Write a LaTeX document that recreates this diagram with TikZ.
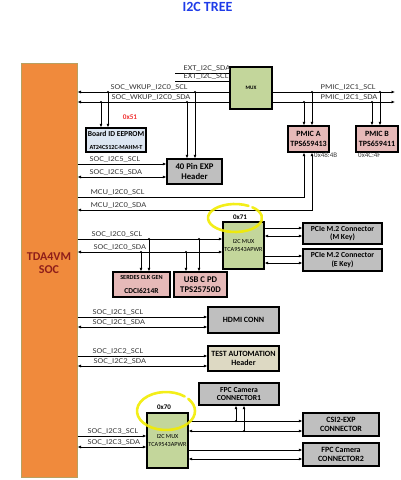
\documentclass[tikz,border=0pt]{standalone}
\usepackage{fontspec}
\setmainfont{Carlito}
\usetikzlibrary{arrows.meta}
\definecolor{socor}{HTML}{F08A3C}
\definecolor{socbd}{HTML}{B8A060}
\definecolor{mgreen}{HTML}{C3D69B}
\definecolor{mpink}{HTML}{E6B9B8}
\definecolor{mgray}{HTML}{BFBFBF}
\definecolor{mbeige}{HTML}{DDD9C3}
\definecolor{mblue}{HTML}{DCE6F2}
\definecolor{lbl}{HTML}{3A3A3A}
\definecolor{ttl}{HTML}{1F3CE8}
\definecolor{hl}{HTML}{F2EC00}
\definecolor{soctxt}{HTML}{8E1E1A}
\definecolor{addr}{HTML}{F03030}
\newcommand{\fs}[1]{\fontsize{#1}{#1}\selectfont}
\newcommand{\wl}[1]{\scalebox{1.15}[1]{#1}}
\begin{document}
\begin{tikzpicture}[x=1pt,y=-1pt,
  box/.style={draw=black, line width=1.3pt, inner sep=0pt, align=center, font=\bfseries},
  wire/.style={line width=0.7pt},
  arr/.style={wire,-{Latex[length=3.5pt,width=3pt]}},
  arrB/.style={wire,{Latex[length=3.5pt,width=3pt]}-{Latex[length=3.5pt,width=3pt]}},
  lab/.style={font=\fs{7.5}, text=lbl, anchor=south west, inner sep=0.4pt},
  dot/.style={fill=black},
  hlite/.style={draw=hl, line width=2.6pt, line cap=round, opacity=0.9}]
\useasboundingbox (0,0) rectangle (400,480);
% title
\node[font=\fs{14}\bfseries, text=ttl] (title) at (207.5,7) {I2C TREE};
% boxes
\node[draw=socbd, line width=1pt, fill=socor, minimum width=56pt, minimum height=414pt, inner sep=0pt] (soc) at (49,270) {};
\node[font=\fs{12}\bfseries, text=soctxt, align=center, inner sep=0pt] (soctxt) at (49,263) {TDA4VM\\[1pt]SOC};
\node[box, fill=mgreen, minimum width=42pt, minimum height=42pt, font=\fs{5.2}\bfseries] (mux) at (251,88) {MUX};
\node[box, fill=mblue, minimum width=60pt, minimum height=24pt] (eeprom) at (116,140) {\fs{7.6}Board ID EEPROM\\[1pt]\fs{6.2}AT24CS12C-MAHM-T};
\node[box, fill=mpink, minimum width=41pt, minimum height=26pt, font=\fs{8}\bfseries] (pmica) at (308.5,139) {PMIC A\\[1.5pt]TPS659413};
\node[box, fill=mpink, minimum width=42pt, minimum height=26pt, font=\fs{8}\bfseries] (pmicb) at (377,139) {PMIC B\\[1.5pt]TPS659411};
\node[box, fill=mgray, minimum width=55pt, minimum height=25pt, font=\fs{8.7}\bfseries] (hdr) at (194.5,171.5) {40 Pin EXP\\[2pt]Header};
\node[box, fill=mgreen, minimum width=41pt, minimum height=47pt, font=\fs{6.2}] (muxa) at (243.5,245.5) {I2C MUX\\[1pt]TCA9543APWR};
\node[box, fill=mpink, minimum width=57pt, minimum height=25pt] (serdes) at (141.5,284.5) {\fs{6.2}SERDES CLK GEN\\[2pt]\fs{7.5}CDCI6214R};
\node[box, fill=mpink, minimum width=53pt, minimum height=25pt, font=\fs{8.7}\bfseries] (usbc) at (200.5,284.5) {USB C PD\\[1.5pt]TPS25750D};
\node[box, fill=mgray, minimum width=79pt, minimum height=21pt, font=\fs{7.7}\bfseries] (pciem) at (342.5,233.5) {PCIe M.2 Connector\\[1pt](M Key)};
\node[box, fill=mgray, minimum width=79pt, minimum height=22pt, font=\fs{7.7}\bfseries] (pciee) at (342.5,260) {PCIe M.2 Connector\\[1pt](E Key)};
\node[box, fill=mgray, minimum width=71pt, minimum height=26pt, font=\fs{8}\bfseries] (hdmi) at (243.5,320) {HDMI CONN};
\node[box, fill=mbeige, minimum width=71pt, minimum height=25pt, font=\fs{8}\bfseries] (test) at (243.5,358.5) {TEST AUTOMATION\\[1.5pt]Header};
\node[box, fill=mgray, minimum width=80pt, minimum height=22pt, font=\fs{7.7}\bfseries] (fpca) at (239,394) {FPC Camera\\[1pt]CONNECTOR1};
\node[box, fill=mgreen, minimum width=41pt, minimum height=55pt, font=\fs{6.2}] (muxb) at (167.5,440.5) {I2C MUX\\[1pt]TCA9543APWR};
\node[box, fill=mgray, minimum width=76pt, minimum height=23pt, font=\fs{8}\bfseries] (csi) at (341,424.5) {CSI2-EXP\\[1pt]CONNECTOR};
\node[box, fill=mgray, minimum width=76pt, minimum height=23pt, font=\fs{8}\bfseries] (fpcb) at (341,454.5) {FPC Camera\\[1pt]CONNECTOR2};
% address labels
\node[font=\fs{7.2}\bfseries, text=addr] (a51) at (130,117) {0x51};
\node[font=\fs{7}, text=lbl, anchor=west, inner sep=0pt] (a48) at (314,155) {0x48:4B};
\node[font=\fs{7}, text=lbl, anchor=west, inner sep=0pt] (a4c) at (358,155) {0x4C:4F};
\node[font=\fs{7}\bfseries] (a71) at (240,217) {0x71};
\node[font=\fs{7}\bfseries] (a70) at (164,407) {0x70};
% levels
\coordinate (ex0) at (175,73); \coordinate (ex1) at (175,81);
\coordinate (w1) at (0,92); \coordinate (w2) at (0,102);
\coordinate (xR) at (395,0);
\coordinate (i5a) at (0,164); \coordinate (i5b) at (0,177);
\coordinate (m1) at (304,197); \coordinate (m2) at (312,210);
\coordinate (i0a) at (0,239); \coordinate (i0b) at (0,252);
\coordinate (pma) at (0,228); \coordinate (pmb) at (0,236);
\coordinate (pea) at (0,256); \coordinate (peb) at (0,263);
\coordinate (i1a) at (0,317); \coordinate (i1b) at (0,327);
\coordinate (i2a) at (0,356); \coordinate (i2b) at (0,366);
\coordinate (i3a) at (0,436); \coordinate (i3b) at (0,447);
\coordinate (csa) at (0,421); \coordinate (csb) at (0,431);
\coordinate (fba) at (0,450); \coordinate (fbb) at (0,459);
% tap points
\coordinate (te1) at (108,92); \coordinate (te2) at (101,102);
\coordinate (th1) at (195,92); \coordinate (th2) at (187,102);
\coordinate (tpa1) at (312,92); \coordinate (tpa2) at (304,102);
\coordinate (tpb1) at (380,92); \coordinate (tpb2) at (372,102);
\coordinate (ts1) at (149,239); \coordinate (ts2) at (141,252);
\coordinate (tu1) at (199,239); \coordinate (tu2) at (186,252);
\coordinate (tf1) at (236,421); \coordinate (tf2) at (244,431);
% EXT lines
\draw[wire] (ex0) -- (mux.west |- ex0);
\draw[wire] (ex1) -- (mux.west |- ex1);
\node[lab] (lex0) at (183,72.5) {\wl{EXT\_I2C\_SDA}};
\node[lab] (lex1) at (183,80.5) {\wl{EXT\_I2C\_SCL}};
% WKUP
\draw[arr] (mux.west |- w1) -- (soc.east |- w1);
\draw[arr] (mux.west |- w2) -- (soc.east |- w2);
\node[lab] (lw1) at (110,91.5) {\wl{SOC\_WKUP\_I2C0\_SCL}};
\node[lab] (lw2) at (111,101.5) {\wl{SOC\_WKUP\_I2C0\_SDA}};
\draw[arr] (mux.east |- w1) -- (xR |- w1);
\draw[arr] (mux.east |- w2) -- (xR |- w2);
\node[lab] (lp1) at (320,91.5) {\wl{PMIC\_I2C1\_SCL}};
\node[lab] (lp2) at (320,101.5) {\wl{PMIC\_I2C1\_SDA}};
% taps from WKUP / PMIC bus
\foreach \t/\n in {te1/eeprom, te2/eeprom, th1/hdr, th2/hdr, tpa1/pmica, tpa2/pmica, tpb1/pmicb, tpb2/pmicb}{
  \draw[arr] (\t) -- (\t |- \n.north);
  \fill[dot] (\t) circle (1.1pt);
}
% I2C5
\draw[arr] (soc.east |- i5a) -- (hdr.west |- i5a);
\draw[arrB] (soc.east |- i5b) -- (hdr.west |- i5b);
\node[lab] (l5a) at (89,163.5) {\wl{SOC\_I2C5\_SCL}};
\node[lab] (l5b) at (89,176.5) {\wl{SOC\_I2C5\_SDA}};
% MCU
\draw[arr] (soc.east |- m1) -- (m1) -- (m1 |- pmica.south);
\draw[arrB] (soc.east |- m2) -- (m2) -- (m2 |- pmica.south);
\node[lab] (lm1) at (90,196.5) {\wl{MCU\_I2C0\_SCL}};
\node[lab] (lm2) at (90,209.5) {\wl{MCU\_I2C0\_SDA}};
% I2C0
\draw[arr] (soc.east |- i0a) -- (muxa.west |- i0a);
\draw[arrB] (soc.east |- i0b) -- (muxa.west |- i0b);
\node[lab] (l0a) at (91,238.5) {\wl{SOC\_I2C0\_SCL}};
\node[lab] (l0b) at (93,251.5) {\wl{SOC\_I2C0\_SDA}};
\foreach \t/\n in {ts1/serdes, ts2/serdes, tu1/usbc, tu2/usbc}{
  \draw[arr] (\t) -- (\t |- \n.north);
  \fill[dot] (\t) circle (1.1pt);
}
\draw[arr] (muxa.east |- pma) -- (pciem.west |- pma);
\draw[arrB] (muxa.east |- pmb) -- (pciem.west |- pmb);
\draw[arr] (muxa.east |- pea) -- (pciee.west |- pea);
\draw[arrB] (muxa.east |- peb) -- (pciee.west |- peb);
% I2C1
\draw[arr] (soc.east |- i1a) -- (hdmi.west |- i1a);
\draw[arrB] (soc.east |- i1b) -- (hdmi.west |- i1b);
\node[lab] (l1a) at (92,316.5) {\wl{SOC\_I2C1\_SCL}};
\node[lab] (l1b) at (92,326.5) {\wl{SOC\_I2C1\_SDA}};
% I2C2
\draw[arr] (soc.east |- i2a) -- (test.west |- i2a);
\draw[arrB] (soc.east |- i2b) -- (test.west |- i2b);
\node[lab] (l2a) at (92,355.5) {\wl{SOC\_I2C2\_SCL}};
\node[lab] (l2b) at (93,365.5) {\wl{SOC\_I2C2\_SDA}};
% I2C3
\draw[arr] (soc.east |- i3a) -- (muxb.west |- i3a);
\draw[arrB] (soc.east |- i3b) -- (muxb.west |- i3b);
\node[lab] (l3a) at (87,435.5) {\wl{SOC\_I2C3\_SCL}};
\node[lab] (l3b) at (87,446.5) {\wl{SOC\_I2C3\_SDA}};
\draw[arr] (muxb.east |- csa) -- (csi.west |- csa);
\draw[arrB] (muxb.east |- csb) -- (csi.west |- csb);
\draw[arr] (muxb.east |- fba) -- (fpcb.west |- fba);
\draw[arrB] (muxb.east |- fbb) -- (fpcb.west |- fbb);
\foreach \t in {tf1, tf2}{
  \draw[arr] (\t) -- (\t |- fpca.south);
  \fill[dot] (\t) circle (1.1pt);
}
% highlights
\draw[hlite] (235,218) ++(60:27pt and 14pt) arc[start angle=60, end angle=410, x radius=27pt, y radius=14pt];
\draw[hlite] (166,411) ++(50:29pt and 19pt) arc[start angle=50, end angle=400, x radius=29pt, y radius=19pt];
\end{tikzpicture}
\end{document}
